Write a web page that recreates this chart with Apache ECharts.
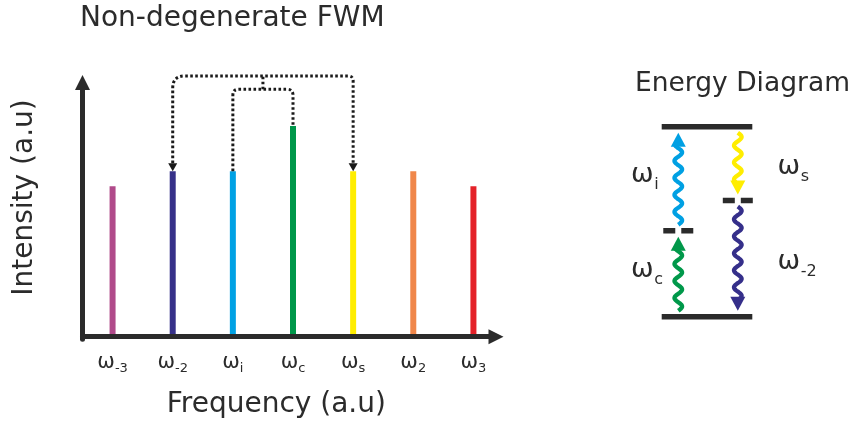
<!DOCTYPE html>
<html>
<head>
<meta charset="utf-8">
<script src="https://cdn.jsdelivr.net/npm/echarts@6/dist/echarts.min.js"></script>
<style>
html,body{margin:0;padding:0;background:#ffffff;}
#c{width:858px;height:428px;}
</style>
</head>
<body>
<div id="c"></div>
<script>
// ================= DATA =================
// spectrum: tick labels are "ω" + subscript
const freqSub   = ['-3', '-2', 'i', 'c', 's', '2', '3'];
const intensity = [5.0, 5.5, 5.5, 7.0, 5.5, 5.5, 5.0];
const barColors = ['#B04A8A', '#363189', '#00A1E4', '#00974A', '#FFED00', '#F0874A', '#E42229'];

// dotted coupling paths between lines (bar indices) at a height level (intensity units)
const linkFrom   = [2, 1];
const linkTo     = [3, 4];
const linkLevel  = [8.22, 8.66];
const linkArrows = [0, 1];

// energy diagram (normalised energy, ground = 0, excited = 1)
const levelEnergy   = [0, 1];
const virtualEnergy = [0.453, 0.611];
const virtualColumn = [0, 1];
const transSub    = ['c', 'i', 's', '-2'];
const transFrom   = [0, 0.453, 1, 0.611];
const transTo     = [0.453, 1, 0.611, 0];
const transColumn = [0, 0, 1, 1];
const transColors = ['#00984A', '#00A0E3', '#FFED00', '#352F8A'];

// ================= STYLE / LAYOUT =================
const FONT = "'DejaVu Sans'";
const INK = '#2b2b2b';
const colX = [0.183, 0.84];           // column positions in the energy diagram (x-axis units)
const linkRadius = [[6, 6], [12, 5]];

const chart = echarts.init(document.getElementById('c'), null, {renderer: 'canvas'});

function renderLink(params, api) {
  const i = params.dataIndex;
  const f = api.value(0), t = api.value(1), lvl = api.value(2), arr = api.value(3);
  const pA = api.coord([f, intensity[f]]);
  const pB = api.coord([t, intensity[t]]);
  const yT = api.coord([f, lvl])[1];
  const L = pA[0], R = pB[0];
  const head = 8, hw = 4.5;
  const yA = arr ? pA[1] - head : pA[1];
  const yB = arr ? pB[1] - head : pB[1];
  const r1 = linkRadius[i][0], r2 = linkRadius[i][1];
  const d = 'M' + L + ' ' + yA + ' L' + L + ' ' + (yT + r1) +
            ' Q' + L + ' ' + yT + ' ' + (L + r1) + ' ' + yT +
            ' L' + (R - r2) + ' ' + yT +
            ' Q' + R + ' ' + yT + ' ' + R + ' ' + (yT + r2) +
            ' L' + R + ' ' + yB;
  const dash = {stroke: '#1a1a1a', lineWidth: 3, lineDash: [2.6, 2.4], fill: null};
  const children = [{type: 'path', shape: {pathData: d}, style: dash}];
  if (arr) {
    children.push({type: 'polygon', shape: {points: [[L, pA[1]], [L - hw, yA], [L + hw, yA]]}, style: {fill: '#1a1a1a'}});
    children.push({type: 'polygon', shape: {points: [[R, pB[1]], [R - hw, yB], [R + hw, yB]]}, style: {fill: '#1a1a1a'}});
  }
  if (i === 0) {
    // bridge from the middle of the inner path up to the outer path
    const mx = (L + R) / 2;
    const yOuter = api.coord([f, linkLevel[1]])[1];
    children.push({type: 'line', shape: {x1: mx, y1: yT, x2: mx, y2: yOuter}, style: dash});
  }
  return {type: 'group', children: children};
}

function renderLevel(params, api) {
  const e = api.value(0);
  const p0 = api.coord([0, e]), p1 = api.coord([1, e]);
  return {type: 'line', shape: {x1: p0[0], y1: p0[1], x2: p1[0], y2: p1[1]},
          style: {stroke: INK, lineWidth: 5.5}};
}

function renderVirtual(params, api) {
  const col = api.value(0), e = api.value(1);
  const p = api.coord([colX[col], e]);
  return {type: 'line', shape: {x1: p[0] - 15, y1: p[1], x2: p[0] + 15, y2: p[1]},
          style: {stroke: INK, lineWidth: 5.5, lineDash: [12, 6]}};
}

function renderTransition(params, api) {
  const col = api.value(0), from = api.value(1), to = api.value(2), k = api.value(3);
  const pf = api.coord([colX[col], from]);
  const pt = api.coord([colX[col], to]);
  const dir = pt[1] < pf[1] ? -1 : 1;
  const x = pf[0];
  const y0 = pf[1] + dir * 6;
  const yTip = pt[1] - dir * 6;
  const headLen = 14, headW = 7.5;
  const yBase = yTip - dir * headLen;
  const len = Math.abs(yBase - y0) + 2;
  const pts = [];
  for (let t = 0; t <= len; t += 0.5) {
    pts.push([x + 3.8 * Math.sin(2 * Math.PI * t / 17), y0 + dir * t]);
  }
  const color = transColors[k];
  const lx = x + (col === 0 ? -36 : 51);
  const ly = (pf[1] + pt[1]) / 2 + (col === 0 ? -4 : 3);
  return {type: 'group', children: [
    {type: 'polyline', shape: {points: pts}, style: {stroke: color, lineWidth: 4.3, fill: null}},
    {type: 'polygon', shape: {points: [[x, yTip], [x - headW, yBase], [x + headW, yBase]]}, style: {fill: color}},
    {type: 'text', x: lx, y: ly, style: {text: 'ω', font: '27px ' + FONT, fill: INK,
        align: 'center', verticalAlign: 'middle', textAlign: 'center', textVerticalAlign: 'middle'}},
    {type: 'text', x: lx + 12, y: ly + 10.5, style: {text: transSub[k], font: '16px ' + FONT, fill: INK,
        align: 'left', verticalAlign: 'middle', textAlign: 'left', textVerticalAlign: 'middle'}}
  ]};
}

function txt(text, x, y, size, align, rot) {
  return {type: 'text', x: x, y: y, rotation: rot || 0, silent: true,
    style: {text: text, font: size + 'px ' + FONT, fill: INK,
      align: align, verticalAlign: 'middle', textAlign: align, textVerticalAlign: 'middle'}};
}

const option = {
  animation: false,
  backgroundColor: '#ffffff',
  grid: [
    {left: 82.5, top: 74.8, width: 421, height: 261.9},          // bars
    {left: 82.5, top: 82.5, width: 413.5, height: 256.7},        // axis arrows
    {left: 661.7, top: 126.7, width: 90.6, height: 190}          // energy diagram
  ],
  xAxis: [
    {gridIndex: 0, type: 'category', data: freqSub, boundaryGap: true,
     axisLine: {show: false}, axisTick: {show: false}, splitLine: {show: false},
     axisLabel: {interval: 0, margin: 14,
       formatter: function (v) { return '{w|ω}{s|' + v + '}'; },
       rich: {
         w: {fontSize: 21, fontFamily: FONT, color: INK, lineHeight: 24, verticalAlign: 'middle'},
         s: {fontSize: 13, fontFamily: FONT, color: INK, lineHeight: 10, verticalAlign: 'bottom'}
       }}},
    {gridIndex: 1, type: 'value', min: 0, max: 1, z: 10,
     axisLine: {show: true, onZero: true, symbol: ['none', 'triangle'], symbolSize: [15, 15],
       lineStyle: {color: INK, width: 5}},
     axisTick: {show: false}, axisLabel: {show: false}, splitLine: {show: false}},
    {gridIndex: 2, type: 'value', min: 0, max: 1, show: false}
  ],
  yAxis: [
    {gridIndex: 0, type: 'value', min: 0, max: 8.7, show: false},
    {gridIndex: 1, type: 'value', min: -0.01, max: 1, z: 10,
     axisLine: {show: true, symbol: ['none', 'triangle'], symbolSize: [15, 15],
       lineStyle: {color: INK, width: 5}},
     axisTick: {show: false}, axisLabel: {show: false}, splitLine: {show: false}},
    {gridIndex: 2, type: 'value', min: 0, max: 1, show: false}
  ],
  series: [
    {type: 'bar', xAxisIndex: 0, yAxisIndex: 0, barWidth: 6,
     data: intensity.map(function (v, i) { return {value: v, itemStyle: {color: barColors[i]}}; })},
    {type: 'custom', xAxisIndex: 0, yAxisIndex: 0, renderItem: renderLink, clip: false, z: 3,
     data: linkFrom.map(function (f, i) { return [f, linkTo[i], linkLevel[i], linkArrows[i]]; })},
    {type: 'custom', xAxisIndex: 2, yAxisIndex: 2, renderItem: renderLevel, clip: false,
     data: levelEnergy.map(function (e) { return [e]; }), encode: {x: -1, y: 0}},
    {type: 'custom', xAxisIndex: 2, yAxisIndex: 2, renderItem: renderVirtual, clip: false,
     data: virtualEnergy.map(function (e, i) { return [virtualColumn[i], e]; })},
    {type: 'custom', xAxisIndex: 2, yAxisIndex: 2, renderItem: renderTransition, clip: false,
     data: transFrom.map(function (f, i) { return [transColumn[i], f, transTo[i], i]; })}
  ],
  graphic: [
    txt('Non-degenerate FWM', 80, 18.3, 28, 'left'),
    txt('Energy Diagram', 635, 84.2, 26.5, 'left'),
    txt('Frequency (a.u)', 166.7, 405, 28, 'left'),
    txt('Intensity (a.u)', 25, 197.5, 28, 'center', Math.PI / 2)
  ]
};
chart.setOption(option);
</script>
</body>
</html>
